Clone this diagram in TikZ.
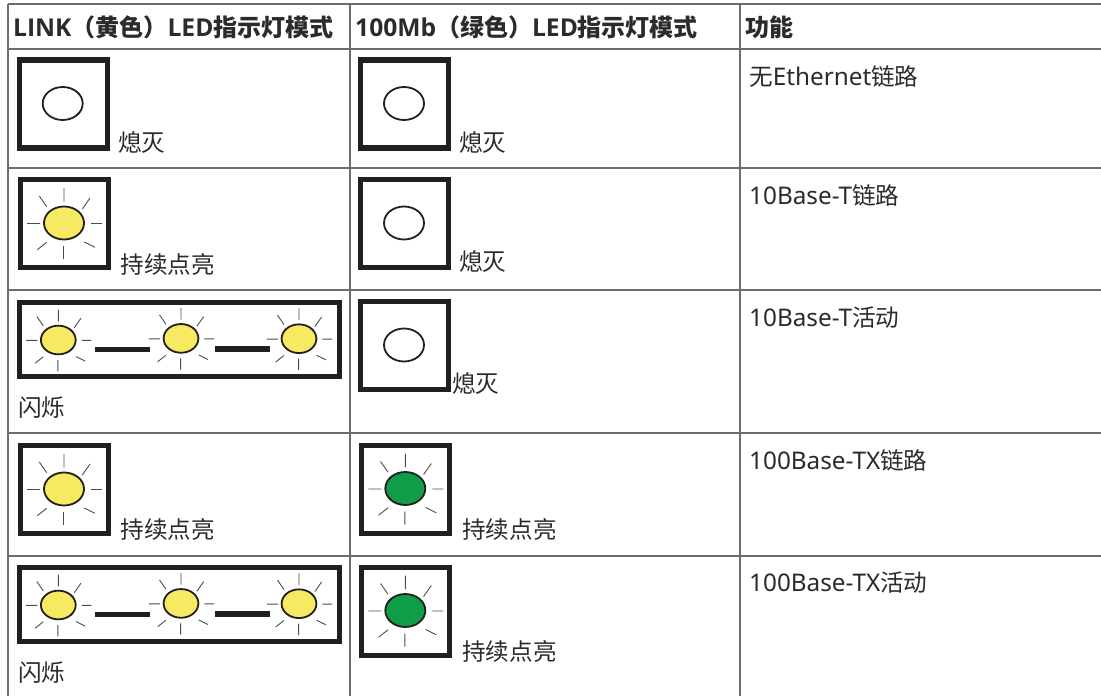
\documentclass[tikz,border=0pt]{standalone}
\usepackage{fontspec}
\setmainfont{Noto Sans CJK SC}
\newfontfamily\latinf{Noto Sans}
\newfontfamily\latinb{Open Sans}
\newcommand{\lt}[1]{{\latinf\fontsize{24.3pt}{26pt}\selectfont #1}}
\newcommand{\hd}[1]{{\latinb\fontsize{24.6pt}{26pt}\selectfont\bfseries #1}}
\definecolor{ink}{HTML}{231F20}
\definecolor{txt}{HTML}{2B2B2B}
\definecolor{rule}{HTML}{6E6E6E}
\definecolor{ledy}{HTML}{F7EA63}
\definecolor{ledg}{HTML}{0F9D48}
\tikzset{
  gridline/.style={draw=rule,line width=1.3pt},
  frame/.style={draw=ink,line width=5.2pt},
  dashbar/.style={draw=ink,line width=5.5pt},
  ray/.style={draw=ink!80,line width=0.9pt},
  ledbody/.style={draw=ink,line width=1.8pt},
  lbl/.style={anchor=base west,inner sep=0pt,text=txt,font=\fontsize{23.6pt}{24pt}\selectfont},
  head/.style={anchor=base west,inner sep=0pt,text=txt,font=\fontsize{24pt}{24pt}\selectfont\bfseries},
}
% lit LED centred at #1,#2 with fill #3, scaled by #4
\newcommand{\litled}[4]{%
  \begin{scope}[shift={(#1,#2)},scale=#4]
    \fill[#3] (0,0) ellipse (20 and 16.5);
    \draw[ledbody] (0,0) ellipse (20 and 16.5);
    \draw[ray] (0,-35)--(0,-21.5) (27,0.5)--(38,0.5) (-37,0.5)--(-24,0.5) (-0.5,23)--(-0.5,36)
      (-24.7,-27)--(-17.3,-16.3) (26,-25)--(18.3,-14) (-26.7,26.7)--(-17.3,19.3) (31,24.3)--(20.3,19);
  \end{scope}}
\newcommand{\offled}[2]{\draw[ledbody] (#1,#2) ellipse (20 and 16.5);}
% square frame from outer top-left
\newcommand{\sqframe}[2]{\draw[frame] (#1+2.5,#2+2.5) rectangle (#1+90.5,#2+90.5);}
% wide blinking frame with top #1
\newcommand{\wideblink}[1]{%
  \draw[frame] (19.5,#1+2.5) rectangle (339.5,#1+76.5);
  \litled{58.3}{#1+40}{ledy}{0.87}
  \litled{181}{#1+38.4}{ledy}{0.87}
  \litled{299}{#1+38.7}{ledy}{0.87}
  \draw[dashbar] (95,#1+49.5)--(150,#1+49.5);
  \draw[dashbar] (214.5,#1+49)--(270,#1+49);}
\begin{document}
\begin{tikzpicture}[x=1pt,y=-1pt]
\useasboundingbox (0,0) rectangle (1101,696);
\fill[white] (0,0) rectangle (1101,696);
% grid
\draw[gridline,line width=1.6pt] (8,4)--(1101,4);
\draw[gridline] (8,49)--(1101,49);
\draw[gridline] (8,168)--(1101,168);
\draw[gridline] (8,290)--(1101,290);
\draw[gridline] (8,433)--(1101,433);
\draw[gridline] (8,556)--(1101,556);
\draw[gridline] (8,4)--(8,696);
\draw[gridline] (350,4)--(350,696);
\draw[gridline] (740,4)--(740,696);
% header
\node[head] (h1) at (13,36) {\hd{LINK}（黄色）\hd{LED}指示灯模式};
\node[head] (h2) at (355,36) {\hd{100Mb}（绿色）\hd{LED}指示灯模式};
\node[head] (h3) at (745,36) {功能};
% row 1
\sqframe{17}{57.5}\offled{62.7}{103.5}
\node[lbl] (t11) at (118,151) {熄灭};
\sqframe{358}{57.5}\offled{404}{103.5}
\node[lbl] (t12) at (459,151) {熄灭};
\node[lbl] (t13) at (749,85) {无\lt{Ethernet}链路};
% row 2
\sqframe{18}{177}\litled{64}{223}{ledy}{1}
\node[lbl] (t21) at (120.5,273) {持续点亮};
\sqframe{358}{177}\offled{404}{223}
\node[lbl] (t22) at (459,270) {熄灭};
\node[lbl] (t23) at (749,204) {\lt{10Base-T}链路};
% row 3
\wideblink{300}
\node[lbl] (t31) at (18,416) {闪烁};
\sqframe{358}{299}\offled{404}{345}
\node[lbl] (t32) at (452,392) {熄灭};
\node[lbl] (t33) at (749,326) {\lt{10Base-T}活动};
% row 4
\sqframe{18}{443}\litled{64}{489}{ledy}{1}
\node[lbl] (t41) at (120.5,538) {持续点亮};
\sqframe{359}{443}\litled{405.3}{488.5}{ledg}{1}
\node[lbl] (t42) at (462,538) {持续点亮};
\node[lbl] (t43) at (749,469) {\lt{100Base-TX}链路};
% row 5
\wideblink{565}
\node[lbl] (t51) at (18,681) {闪烁};
\sqframe{359}{565}\litled{405.3}{610.5}{ledg}{1}
\node[lbl] (t52) at (462,660) {持续点亮};
\node[lbl] (t53) at (749,591) {\lt{100Base-TX}活动};
\end{tikzpicture}
\end{document}
